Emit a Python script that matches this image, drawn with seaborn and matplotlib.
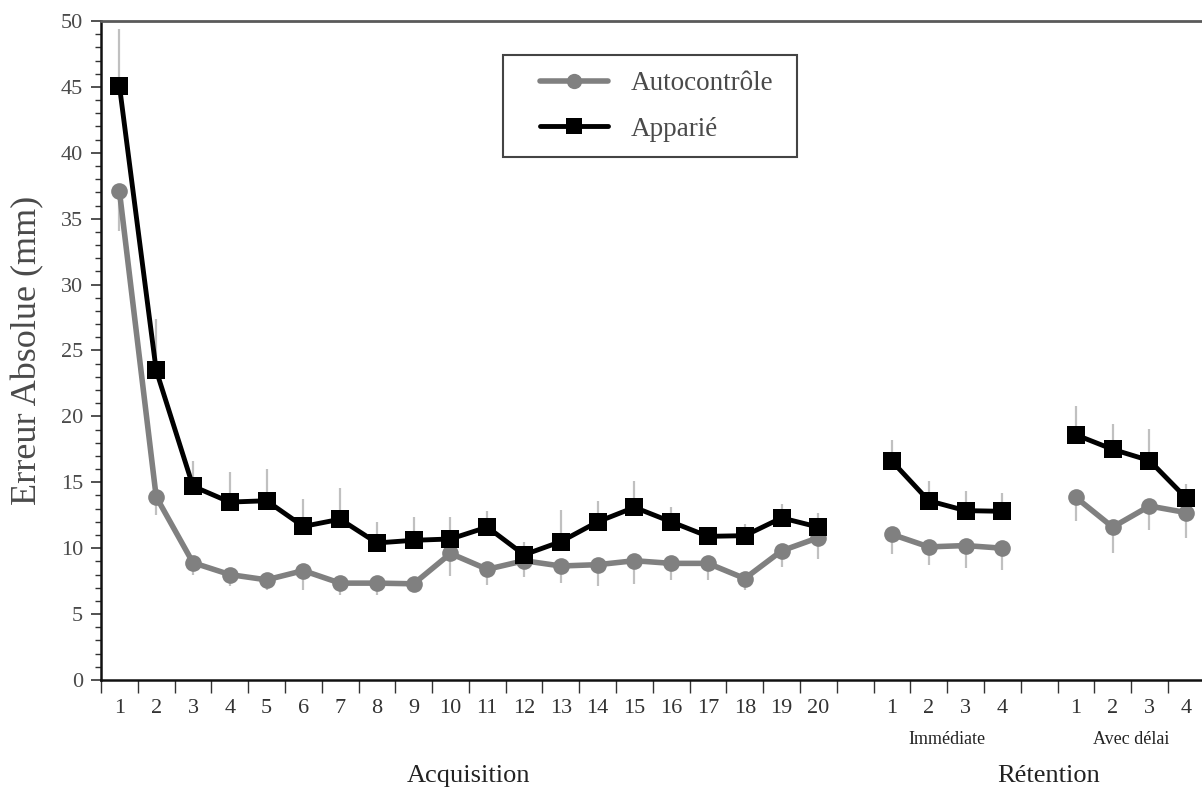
import numpy as np
import pandas as pd
import matplotlib
matplotlib.use("Agg")
import matplotlib.pyplot as plt
import seaborn as sns
from matplotlib.ticker import MultipleLocator, FixedLocator
from matplotlib.patches import Rectangle

# ---- data ----
acq_labels = [str(i) for i in range(1, 21)]
ret_labels = ["1", "2", "3", "4"]

auto_acq = [37.1, 13.9, 8.9, 8.0, 7.6, 8.3, 7.35, 7.35, 7.3, 9.6,
            8.4, 9.05, 8.65, 8.75, 9.05, 8.85, 8.85, 7.7, 9.8, 10.8]
auto_imm = [11.05, 10.1, 10.2, 10.0]
auto_del = [13.85, 11.6, 13.2, 12.7]

app_acq = [45.1, 23.5, 14.7, 13.5, 13.6, 11.65, 12.2, 10.4, 10.6, 10.7,
           11.6, 9.5, 10.5, 12.0, 13.1, 12.0, 10.9, 10.95, 12.3, 11.6]
app_imm = [16.6, 13.6, 12.85, 12.8]
app_del = [18.6, 17.5, 16.65, 13.8]

# one-sided error bars (Autocontrôle downward, Apparié upward)
auto_err_acq = [3.05, 1.4, 0.9, 0.9, 0.8, 1.5, 0.9, 0.9, 0.6, 1.7,
                1.2, 1.2, 1.3, 1.6, 1.75, 1.25, 1.25, 0.9, 1.25, 1.6]
auto_err_imm = [1.5, 1.4, 1.7, 1.65]
auto_err_del = [1.75, 1.95, 1.8, 1.9]

app_err_acq = [4.3, 3.9, 1.9, 2.3, 2.4, 2.1, 2.4, 1.6, 1.8, 1.7,
               1.25, 1.0, 2.4, 1.6, 2.0, 1.1, 0.7, 0.9, 1.05, 1.1]
app_err_imm = [1.6, 1.5, 1.5, 1.4]
app_err_del = [2.2, 1.9, 2.4, 1.1]

pos_acq = np.arange(20)
pos_imm = np.arange(21, 25)
pos_del = np.arange(26, 30)

GRAY = "#808080"
BLACK = "#000000"
ERRC = "#c0c0c0"
TXT = "#4a4a4a"

sns.set_style("white")
plt.rcParams["font.family"] = ["Liberation Serif", "DejaVu Serif"]

W, H = 1202, 787
fig = plt.figure(figsize=(W / 100, H / 100), dpi=100)
ax = fig.add_axes([101 / W, 1 - 680 / H, 1100 / W, 659 / H])

segments = [
    (pos_acq, auto_acq, auto_err_acq, app_acq, app_err_acq),
    (pos_imm, auto_imm, auto_err_imm, app_imm, app_err_imm),
    (pos_del, auto_del, auto_err_del, app_del, app_err_del),
]

for i, (pos, a, ae, p, pe) in enumerate(segments):
    a = np.asarray(a); ae = np.asarray(ae)
    p = np.asarray(p); pe = np.asarray(pe)
    ax.vlines(pos, a - ae, a, color=ERRC, lw=1.6, zorder=1)
    ax.vlines(pos, p, p + pe, color=ERRC, lw=1.6, zorder=1)
    df_a = pd.DataFrame({"x": pos, "y": a})
    df_p = pd.DataFrame({"x": pos, "y": p})
    sns.lineplot(data=df_a, x="x", y="y", ax=ax, color=GRAY, lw=4,
                 marker="o", markersize=12, markeredgewidth=0,
                 markerfacecolor=GRAY, zorder=3,
                 label="Autocontrôle" if i == 0 else None)
    sns.lineplot(data=df_p, x="x", y="y", ax=ax, color=BLACK, lw=3.5,
                 marker="s", markersize=13, markeredgewidth=0,
                 markerfacecolor=BLACK, zorder=4,
                 label="Apparié" if i == 0 else None)

ax.set_xlim(-0.5, 29.4)
ax.set_ylim(0, 50)

# y axis
ax.yaxis.set_major_locator(MultipleLocator(5))
ax.yaxis.set_minor_locator(MultipleLocator(1))
ax.tick_params(axis="y", which="major", direction="out", length=7, width=1.2,
               color="#333333", labelsize=16, labelcolor=TXT, pad=6, left=True)
ax.tick_params(axis="y", which="minor", direction="out", length=4, width=1,
               color="#333333", left=True)

# x axis
all_pos = np.concatenate([pos_acq, pos_imm, pos_del])
all_lab = acq_labels + ret_labels + ret_labels
ax.set_xticks(all_pos)
ax.set_xticklabels(all_lab)
ax.xaxis.set_minor_locator(FixedLocator(np.arange(-0.5, 29.6, 1.0)))
ax.tick_params(axis="x", which="major", length=0, labelsize=16,
               labelcolor="#333333", pad=14, bottom=True)
ax.tick_params(axis="x", which="minor", direction="out", length=9, width=1,
               color="#333333", bottom=True)

for s in ["left", "bottom"]:
    ax.spines[s].set_color("#111111")
    ax.spines[s].set_linewidth(1.8)
ax.spines["top"].set_color("#5a5a5a")
ax.spines["top"].set_linewidth(2.0)
ax.spines["right"].set_visible(False)

ax.set_xlabel("")
ax.set_ylabel("Erreur Absolue (mm)", fontsize=26, color=TXT, labelpad=12)

# group labels
xt = ax.get_xaxis_transform()
ax.text(22.5, -0.09, "Immédiate", transform=xt,
        ha="center", va="center", fontsize=13, color="#222222")
ax.text(27.5, -0.09, "Avec délai", transform=xt,
        ha="center", va="center", fontsize=13, color="#222222")
ax.text(9.5, -0.145, "Acquisition", transform=xt,
        ha="center", va="center", fontsize=19, color="#222222")
ax.text(25.25, -0.145, "Rétention", transform=xt,
        ha="center", va="center", fontsize=19, color="#222222")

# legend (frame drawn separately)
leg = ax.legend(loc="center left",
                bbox_to_anchor=(540 / W, 1 - 106.5 / H),
                bbox_transform=fig.transFigure, frameon=False,
                fontsize=19.5, handlelength=2.5, borderpad=0, labelspacing=0.75,
                handletextpad=0.85, borderaxespad=0)
for t in leg.get_texts():
    t.set_color(TXT)
for h in leg.legend_handles:
    h.set_markersize(11)
fig.patches.append(Rectangle((503 / W, 1 - 157 / H), 294 / W, 102 / H,
                             transform=fig.transFigure, fill=False,
                             edgecolor="#444444", linewidth=1.5, zorder=5))

fig.savefig("out.png", dpi=100, facecolor="white")
